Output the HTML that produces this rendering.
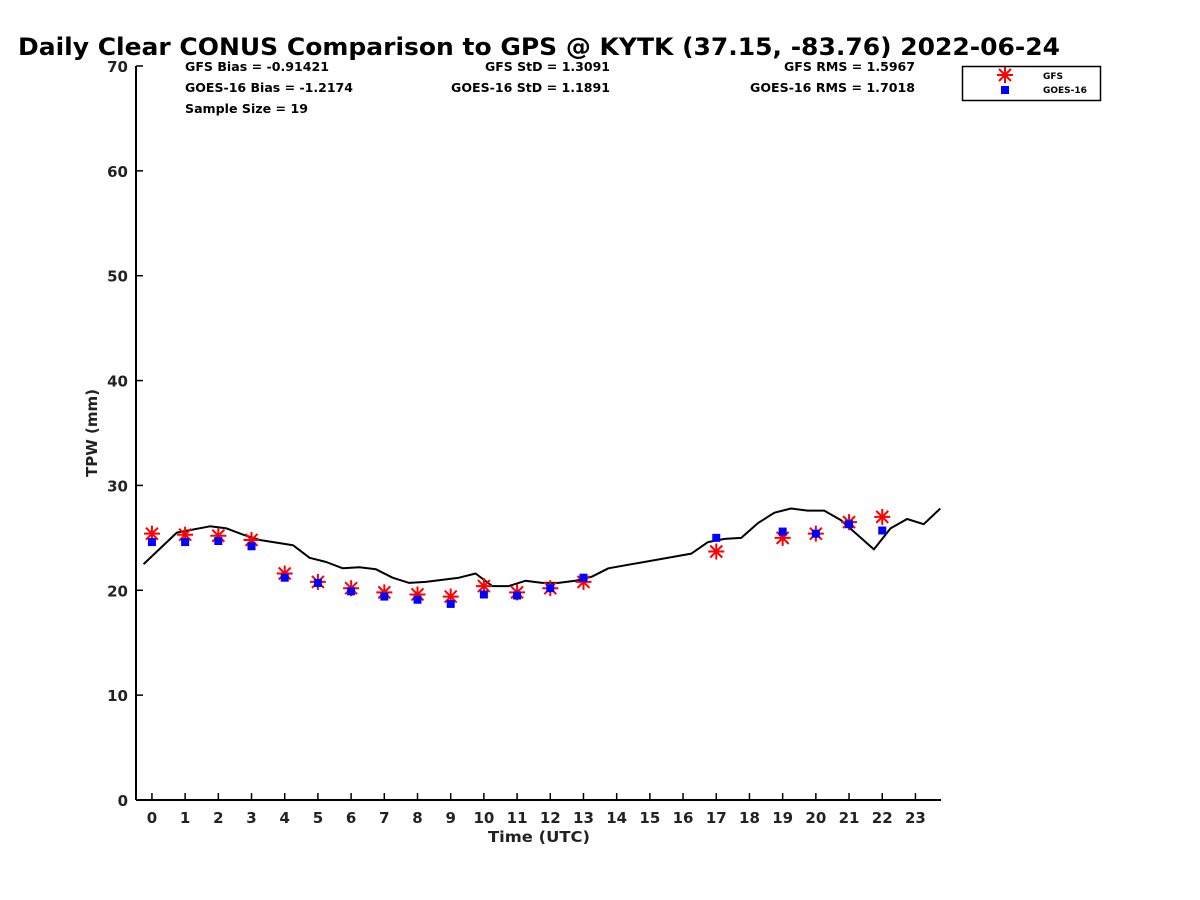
<!DOCTYPE html>
<html><head><meta charset="utf-8"><style>
html,body{margin:0;padding:0;background:#fff;}
svg{display:block;font-family:"DejaVu Sans","Liberation Sans",sans-serif;font-weight:bold;}
</style></head><body>
<svg id="chart" width="1200" height="900" viewBox="0 0 1200 900" xmlns="http://www.w3.org/2000/svg">
<rect width="1200" height="900" fill="#fff"/>
<text x="18" y="55" font-size="24" fill="#000" textLength="1042" lengthAdjust="spacingAndGlyphs">Daily Clear CONUS Comparison to GPS @ KYTK (37.15, -83.76) 2022-06-24</text>
<g font-size="12" fill="#000">
<text x="185" y="71" textLength="144" lengthAdjust="spacingAndGlyphs">GFS Bias = -0.91421</text>
<text x="185" y="92" textLength="168" lengthAdjust="spacingAndGlyphs">GOES-16 Bias = -1.2174</text>
<text x="185" y="113" textLength="123" lengthAdjust="spacingAndGlyphs">Sample Size = 19</text>
<text x="485" y="71" textLength="125" lengthAdjust="spacingAndGlyphs">GFS StD = 1.3091</text>
<text x="451" y="92" textLength="159" lengthAdjust="spacingAndGlyphs">GOES-16 StD = 1.1891</text>
<text x="784" y="71" textLength="131" lengthAdjust="spacingAndGlyphs">GFS RMS = 1.5967</text>
<text x="750" y="92" textLength="165" lengthAdjust="spacingAndGlyphs">GOES-16 RMS = 1.7018</text>
</g>
<g id="axes"></g>
<g id="marks"></g>
<g>
<rect x="962.5" y="66.5" width="138" height="34" fill="#fff" stroke="#000" stroke-width="1.5"/>
<g stroke="#f00" stroke-width="2">
<line x1="997" y1="75" x2="1013" y2="75"/><line x1="1005" y1="67" x2="1005" y2="83"/><line x1="999" y1="69" x2="1011" y2="81"/><line x1="1011" y1="69" x2="999" y2="81"/>
</g>
<text x="1043" y="79" font-size="9">GFS</text>
<rect x="1001" y="86" width="8" height="8" fill="#00f"/>
<text x="1043" y="93" font-size="9">GOES-16</text>
</g>
<text x="488" y="842" font-size="15" fill="#222" textLength="102" lengthAdjust="spacingAndGlyphs">Time (UTC)</text>
<text transform="translate(97,433) rotate(-90)" text-anchor="middle" font-size="15" fill="#222">TPW (mm)</text>
</svg>
<script>
const gpsTimes=[-0.25,0.75,1.75,2.25,2.75,3.25,4.25,4.75,5.25,5.75,6.25,6.75,7.25,7.75,8.25,9.25,9.75,10.25,10.75,11.25,11.75,12.25,12.75,13.25,13.75,16.25,16.75,17.25,17.75,18.25,18.75,19.25,19.75,20.25,20.75,21.75,22.25,22.75,23.25,23.75];
const gpsValues=[22.5,25.5,26.1,25.9,25.3,24.8,24.3,23.1,22.7,22.1,22.2,22.0,21.2,20.7,20.8,21.2,21.6,20.4,20.4,20.9,20.7,20.7,20.9,21.3,22.1,23.5,24.6,24.9,25.0,26.4,27.4,27.8,27.6,27.6,26.7,23.9,25.9,26.8,26.3,27.8];
const obsHours=[0,1,2,3,4,5,6,7,8,9,10,11,12,13,17,19,20,21,22];
const gfsValues=[25.4,25.3,25.2,24.8,21.6,20.8,20.2,19.8,19.6,19.4,20.4,19.8,20.2,20.8,23.7,25.0,25.4,26.5,27.0];
const goesValues=[24.6,24.6,24.7,24.2,21.2,20.7,19.9,19.4,19.1,18.7,19.6,19.5,20.2,21.2,25.0,25.6,25.4,26.3,25.7];
const xTicks=[0,1,2,3,4,5,6,7,8,9,10,11,12,13,14,15,16,17,18,19,20,21,22,23];
const yTicks=[0,10,20,30,40,50,60,70];

const NS="http://www.w3.org/2000/svg";
const X0=136,X1=941,Y0=800,Y1=66,xmin=-0.48,xmax=23.77,ymin=0,ymax=70;
function xs(h){return X0+(h-xmin)/(xmax-xmin)*(X1-X0);}
function ys(v){return Y0-(v-ymin)/(ymax-ymin)*(Y0-Y1);}
function mk(tag,attrs,parent){const e=document.createElementNS(NS,tag);for(const k in attrs)e.setAttribute(k,attrs[k]);parent.appendChild(e);return e;}
const axes=document.getElementById('axes'),marks=document.getElementById('marks');
const xa=mk('line',{x1:X0,y1:Y0,x2:X1,y2:Y0,stroke:'#000','stroke-width':2},axes);


const ya=mk('line',{x1:X0,y1:Y0,x2:X0,y2:Y1,stroke:'#000','stroke-width':2},axes);


xTicks.forEach(t=>{
  const x=xs(t);
  const l=mk('line',{x1:x,y1:Y0,x2:x,y2:Y0-7,stroke:'#000','stroke-width':1.5},axes);
  
  
  const tx=mk('text',{x:x,y:Y0+23,'text-anchor':'middle','font-size':15,fill:'#222'},axes);
  tx.textContent=t;
  
  
});
yTicks.forEach(t=>{
  const y=ys(t);
  const l=mk('line',{x1:X0,y1:y,x2:X0+7,y2:y,stroke:'#000','stroke-width':1.5},axes);
  
  
  const tx=mk('text',{x:X0-8,y:y+6,'text-anchor':'end','font-size':15,fill:'#222'},axes);
  tx.textContent=t;
  
  
});
const pts=gpsTimes.map((t,i)=>xs(t).toFixed(1)+','+ys(gpsValues[i]).toFixed(1)).join(' ');
const pl=mk('polyline',{points:pts,fill:'none',stroke:'#000','stroke-width':2,'stroke-linejoin':'round'},marks);


obsHours.forEach((h,i)=>{
  const x=xs(h),y=ys(gfsValues[i]),r=8;
  const g=mk('g',{stroke:'#f00','stroke-width':2},marks);
  
  
  mk('line',{x1:x-r,y1:y,x2:x+r,y2:y},g);
  mk('line',{x1:x,y1:y-r,x2:x,y2:y+r},g);
  mk('line',{x1:x-6,y1:y-6,x2:x+6,y2:y+6},g);
  mk('line',{x1:x+6,y1:y-6,x2:x-6,y2:y+6},g);
});
obsHours.forEach((h,i)=>{
  const x=xs(h),y=ys(goesValues[i]);
  const r=mk('rect',{x:x-4,y:y-4,width:8,height:8,fill:'#00f'},marks);
  
  
});
</script>
</body></html>
